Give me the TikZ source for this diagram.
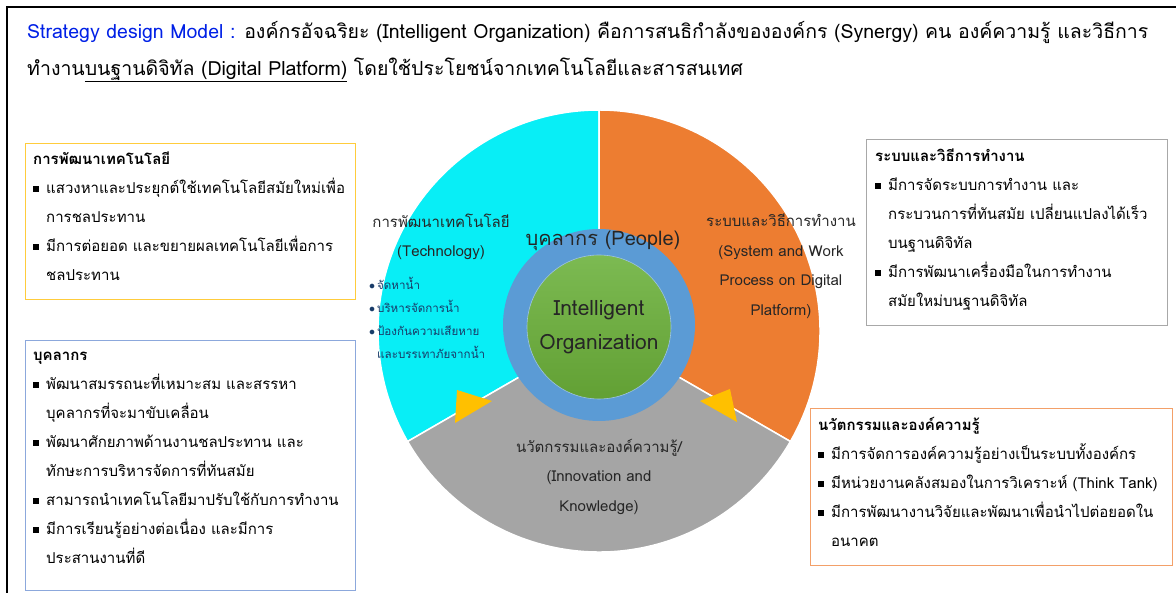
\documentclass[tikz,border=0pt]{standalone}
\usepackage{fontspec}
\setmainfont[Script=Thai]{Loma}
\usepackage{xcolor}
\usepackage{tikz}
\usetikzlibrary{calc}

\definecolor{cTitle}{RGB}{0,32,230}
\definecolor{cTech}{RGB}{8,238,246}
\definecolor{cSystem}{RGB}{237,125,49}
\definecolor{cInno}{RGB}{165,165,165}
\definecolor{cPeople}{RGB}{91,155,213}
\definecolor{cCoreTop}{RGB}{124,186,82}
\definecolor{cCoreBot}{RGB}{98,160,52}
\definecolor{cArrow}{RGB}{255,192,0}
\definecolor{cSmall}{RGB}{25,60,105}
\definecolor{lnTech}{RGB}{255,204,60}
\definecolor{lnPeople}{RGB}{140,168,220}
\definecolor{lnSystem}{RGB}{168,168,168}
\definecolor{lnInno}{RGB}{243,160,105}

\newcommand{\sqb}{\raisebox{1.5pt}{\rule{6pt}{6pt}}\hspace{7pt}}
\newcommand{\ind}{\hspace*{13pt}}

\tikzstyle{tsBox} = [
    rectangle,
    anchor=north west,
    inner sep=0pt,
    line width=1.3pt
]
\tikzstyle{tsList} = [
    anchor=north west,
    align=left,
    inner sep=0pt,
    font=\fontsize{15pt}{29pt}\selectfont
]
\tikzstyle{tsWheel} = [
    align=center,
    inner sep=0pt,
    text=black!85,
    font=\fontsize{15pt}{29.5pt}\selectfont
]

\begin{document}
\begin{tikzpicture}[x=1pt, y=1pt]

    \useasboundingbox (0,0) rectangle (1176,593);
    \draw[line width=2pt] (7,0) -- (7,586) -- (1176,586);

    % heading
    \node[anchor=west, inner sep=0pt, font=\fontsize{19.5pt}{22pt}\selectfont] (head1) at (27,560)
        {\textcolor{cTitle}{Strategy design Model :} องค์กรอัจฉริยะ (Intelligent Organization) คือการสนธิกำลังขององค์กร (Synergy) คน องค์ความรู้ และวิธีการ};
    \node[anchor=west, inner sep=0pt, font=\fontsize{19.5pt}{22pt}\selectfont] (head2) at (27,523)
        {ทำงาน\underline{บนฐานดิจิทัล (Digital Platform)} โดยใช้ประโยชน์จากเทคโนโลยีและสารสนเทศ};

    % wheel
    \coordinate (ctr) at (599,262);
    \filldraw[fill=cTech, draw=white, line width=1.5pt] (ctr) -- ++(90:221) arc[start angle=90, end angle=210, radius=221] -- cycle;
    \filldraw[fill=cSystem, draw=white, line width=1.5pt] (ctr) -- ++(-30:221) arc[start angle=-30, end angle=90, radius=221] -- cycle;
    \filldraw[fill=cInno, draw=white, line width=1.5pt] (ctr) -- ++(210:221) arc[start angle=210, end angle=330, radius=221] -- cycle;

    \node[circle, fill=cPeople, minimum size=192pt, inner sep=0pt] (ring) at (599,268) {};
    \node[circle, top color=cCoreTop, bottom color=cCoreBot, draw=cPeople!60!white, line width=0.6pt,
          minimum size=144pt, inner sep=0pt] (core) at (599,266) {};

    \fill[cArrow] (457,203) -- (492,192) -- (455,170) -- cycle;
    \fill[cArrow] (730,204) -- (700,192) -- (737,171) -- cycle;

    \node[tsWheel] (techLbl) at (441,356) {การพัฒนาเทคโนโลยี\\(Technology)};
    \node[tsWheel, anchor=north west, align=left, text=cSmall, font=\fontsize{11.6pt}{23pt}\selectfont] (techPts) at (369,316)
        {$\bullet$\,จัดหาน้ำ\\$\bullet$\,บริหารจัดการน้ำ\\$\bullet$\,ป้องกันความเสียหาย\\\hspace*{8pt}และบรรเทาภัยจากน้ำ};
    \node[tsWheel, font=\fontsize{20pt}{22pt}\selectfont] (peopleLbl) at (603,352) {บุคลากร (People)};
    \node[tsWheel, font=\fontsize{21pt}{34pt}\selectfont] (coreLbl) at (core) {Intelligent\\Organization};
    \node[tsWheel] (sysLbl) at (781,327) {ระบบและวิธีการทำงาน\\(System and Work\\Process on Digital\\Platform)};
    \node[tsWheel] (innoLbl) at (599,116) {นวัตกรรมและองค์ความรู้/\\(Innovation and\\Knowledge)};

    % side boxes
    \node[tsBox, draw=lnTech, minimum width=330pt, minimum height=156pt] (techBox) at (25,450) {};
    \node[tsList] (techList) at ($(techBox.north west)+(8,-9)$)
        {\textbf{การพัฒนาเทคโนโลยี}\\
         \sqb แสวงหาและประยุกต์ใช้เทคโนโลยีสมัยใหม่เพื่อ\\
         \ind การชลประทาน\\
         \sqb มีการต่อยอด และขยายผลเทคโนโลยีเพื่อการ\\
         \ind ชลประทาน};

    \node[tsBox, draw=lnPeople, minimum width=330pt, minimum height=250pt] (peopleBox) at (25,253) {};
    \node[tsList] (peopleList) at ($(peopleBox.north west)+(8,-12)$)
        {\textbf{บุคลากร}\\
         \sqb พัฒนาสมรรถนะที่เหมาะสม และสรรหา\\
         \ind บุคลากรที่จะมาขับเคลื่อน\\
         \sqb พัฒนาศักยภาพด้านงานชลประทาน และ\\
         \ind ทักษะการบริหารจัดการที่ทันสมัย\\
         \sqb สามารถนำเทคโนโลยีมาปรับใช้กับการทำงาน\\
         \sqb มีการเรียนรู้อย่างต่อเนื่อง และมีการ\\
         \ind ประสานงานที่ดี};

    \node[tsBox, draw=lnSystem, minimum width=301pt, minimum height=186pt] (sysBox) at (866,454) {};
    \node[tsList] (sysList) at ($(sysBox.north west)+(9,-10)$)
        {\textbf{ระบบและวิธีการทำงาน}\\
         \sqb มีการจัดระบบการทำงาน และ\\
         \ind กระบวนการที่ทันสมัย เปลี่ยนแปลงได้เร็ว\\
         \ind บนฐานดิจิทัล\\
         \sqb มีการพัฒนาเครื่องมือในการทำงาน\\
         \ind สมัยใหม่บนฐานดิจิทัล};

    \node[tsBox, draw=lnInno, minimum width=362pt, minimum height=157pt] (innoBox) at (810,185) {};
    \node[tsList] (innoList) at ($(innoBox.north west)+(8,-9)$)
        {\textbf{นวัตกรรมและองค์ความรู้}\\
         \sqb มีการจัดการองค์ความรู้อย่างเป็นระบบทั้งองค์กร\\
         \sqb มีหน่วยงานคลังสมองในการวิเคราะห์ (Think Tank)\\
         \sqb มีการพัฒนางานวิจัยและพัฒนาเพื่อนำไปต่อยอดใน\\
         \ind อนาคต};

\end{tikzpicture}
\end{document}
